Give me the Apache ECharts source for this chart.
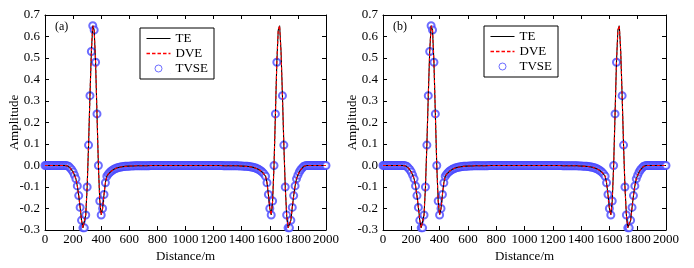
<!DOCTYPE html>
<html>
<head>
<meta charset="utf-8">
<script src="https://cdn.jsdelivr.net/npm/echarts@6/dist/echarts.min.js"></script>
<style>
  html, body { margin: 0; padding: 0; background: #fff; }
  #chartmain { width: 694px; height: 268px; }
</style>
</head>
<body>
<div id="chartmain"></div>
<script>
// sample spacing along the profile (m)
var step = 10;
var xTicks = [0, 200, 400, 600, 800, 1000, 1200, 1400, 1600, 1800, 2000];
var yTicks = [-0.3, -0.2, -0.1, 0.0, 0.1, 0.2, 0.3, 0.4, 0.5, 0.6, 0.7];
var panels = ['(a)', '(b)'];

// amplitude every 10 m, 0 .. 2000 m
var amp = [
  0, 0, 0, 0, 0, 0, 0, 0, 0, 0,
  0, 0, 0, 0, 0, 0, -0.002, -0.005, -0.012, -0.02,
  -0.03, -0.045, -0.062, -0.095, -0.14, -0.195, -0.255, -0.29, -0.29, -0.23,
  -0.10, 0.095, 0.325, 0.53, 0.65, 0.63, 0.48, 0.24, 0.0, -0.165,
  -0.23, -0.20, -0.135, -0.08, -0.05, -0.04, -0.033, -0.027, -0.022, -0.018,
  -0.015, -0.012, -0.010, -0.008, -0.007, -0.006, -0.005, -0.004, -0.004, -0.003,
  -0.003, -0.002, -0.002, -0.002, -0.001, -0.001, -0.001, -0.001, -0.001, -0.001,
  -0.001, -0.001, -0.001, -0.001, -0.001, 0, 0, 0, 0, 0,
  0, 0, 0, 0, 0, 0, 0, 0, 0, 0,
  0, 0, 0, 0, 0, 0, 0, 0, 0, 0,
  0, 0, 0, 0, 0, 0, 0, 0, 0, 0,
  0, 0, 0, 0, 0, 0, 0, 0, 0, 0,
  0, 0, 0, 0, 0, 0, 0, -0.001, -0.001, -0.001,
  -0.001, -0.001, -0.001, -0.001, -0.001, -0.001, -0.001, -0.001, -0.002, -0.002,
  -0.002, -0.003, -0.003, -0.004, -0.004, -0.005, -0.006, -0.007, -0.008, -0.010,
  -0.012, -0.015, -0.018, -0.022, -0.027, -0.033, -0.04, -0.05, -0.08, -0.135,
  -0.20, -0.23, -0.165, 0.0, 0.24, 0.48, 0.63, 0.65, 0.53, 0.325,
  0.095, -0.10, -0.23, -0.29, -0.29, -0.255, -0.195, -0.14, -0.095, -0.062,
  -0.045, -0.03, -0.02, -0.012, -0.005, -0.002, 0, 0, 0, 0,
  0, 0, 0, 0, 0, 0, 0, 0, 0, 0,
  0
];
// TVSE has no samples on top of the second peak
var tvseSkip = [1660, 1670, 1680];

var lineData = [], tvseData = [];
for (var i = 0; i < amp.length; i++) {
    var d = i * step;
    lineData.push([d, amp[i]]);
    if (tvseSkip.indexOf(d) < 0) tvseData.push([d, amp[i]]);
}

var font = 'Liberation Serif';
var grids = [
    { left: 45, top: 15, width: 281, height: 220 },
    { left: 383, top: 15, width: 283, height: 220 }
];
var legendPos = [[140, 28], [484, 26]];

// legend icons (24 x 10 box, tiny corner specks keep the box size)
var box = ' M0,0h0.01v0.01h-0.01Z M23.99,9.99h0.01v0.01h-0.01Z';
var iconSolid = 'path://M0,4.4H24V5.6H0Z' + box;
var iconDash = 'path://M0,4.3h3.5v1.4h-3.5Z M5.5,4.3h3.5v1.4h-3.5Z M11,4.3h3.5v1.4h-3.5Z M16.5,4.3h3.5v1.4h-3.5Z M22,4.3h2v1.4h-2Z' + box;
var iconRing = 'path://M8.5,5a3.5,3.5 0 1,0 7,0a3.5,3.5 0 1,0 -7,0Z' + box;

var tick = { show: true, inside: true, length: 4, lineStyle: { color: '#000' } };
var axLine = { show: true, onZero: false, lineStyle: { color: '#000', width: 1 } };
var lab = { fontFamily: font, fontSize: 13, color: '#000' };

var xAxes = [], yAxes = [], series = [], legends = [], texts = [];
grids.forEach(function (g, k) {
    xAxes.push({
        type: 'value', gridIndex: k, position: 'bottom',
        min: xTicks[0], max: xTicks[xTicks.length - 1], interval: 200,
        name: 'Distance/m', nameLocation: 'middle', nameGap: 20, nameTextStyle: lab,
        nameMoveOverlap: false,
        axisLine: axLine, axisTick: tick,
        axisLabel: { fontFamily: font, fontSize: 13, color: '#000', margin: 3,
            formatter: function (v) { return String(v); } },
        splitLine: { show: false }
    }, {
        type: 'value', gridIndex: k, position: 'top',
        min: xTicks[0], max: xTicks[xTicks.length - 1], interval: 200,
        axisLine: axLine, axisTick: tick, axisLabel: { show: false }, splitLine: { show: false }
    });
    yAxes.push({
        type: 'value', gridIndex: k, position: 'left',
        min: yTicks[0], max: yTicks[yTicks.length - 1], interval: 0.1,
        name: 'Amplitude', nameLocation: 'middle', nameGap: 24, nameRotate: 90, nameTextStyle: lab,
        nameMoveOverlap: false,
        axisLine: axLine, axisTick: tick,
        axisLabel: { fontFamily: font, fontSize: 13, color: '#000', margin: 5,
            formatter: function (v) { return v.toFixed(1); } },
        splitLine: { show: false }
    }, {
        type: 'value', gridIndex: k, position: 'right',
        min: yTicks[0], max: yTicks[yTicks.length - 1], interval: 0.1,
        axisLine: axLine, axisTick: tick, axisLabel: { show: false }, splitLine: { show: false }
    });

    series.push({
        name: 'TE', type: 'line', xAxisIndex: 2 * k, yAxisIndex: 2 * k,
        data: lineData, showSymbol: false, symbol: 'none',
        lineStyle: { color: '#000', width: 1.1 }, itemStyle: { color: '#000' }
    }, {
        name: 'DVE', type: 'line', xAxisIndex: 2 * k, yAxisIndex: 2 * k,
        data: lineData, showSymbol: false, symbol: 'none',
        lineStyle: { color: '#ff0000', width: 1.1, type: [3, 2] }, itemStyle: { color: '#ff0000' }
    }, {
        name: 'TVSE', type: 'scatter', xAxisIndex: 2 * k, yAxisIndex: 2 * k,
        data: tvseData, symbol: 'emptyCircle', symbolSize: 7,
        itemStyle: { color: '#4848ff', borderColor: '#4848ff', borderWidth: 0.9 }
    });

    legends.push({
        orient: 'vertical', left: legendPos[k][0], top: legendPos[k][1],
        data: [
            { name: 'TE', icon: iconSolid, itemStyle: { color: '#000', borderWidth: 0 } },
            { name: 'DVE', icon: iconDash, itemStyle: { color: '#ff0000', borderWidth: 0 } },
            { name: 'TVSE', icon: iconRing, itemStyle: { color: 'rgba(0,0,0,0)', borderColor: '#4848ff', borderWidth: 1 } }
        ],
        itemWidth: 24, itemHeight: 10, itemGap: 2,
        padding: [4, 6, 4, 6],
        borderColor: '#000', borderWidth: 1, backgroundColor: '#fff',
        selectedMode: false,
        textStyle: lab
    });

    texts.push({
        type: 'text', left: g.left + 10, top: g.top + 6,
        style: { text: panels[k], font: '12px "Liberation Serif"', fill: '#000' }
    });
});

var option = {
    animation: false,
    backgroundColor: '#fff',
    grid: grids,
    xAxis: xAxes,
    yAxis: yAxes,
    legend: legends,
    graphic: texts,
    series: series
};

var myChart = echarts.init(document.getElementById('chartmain'));
myChart.setOption(option);
</script>
</body>
</html>
